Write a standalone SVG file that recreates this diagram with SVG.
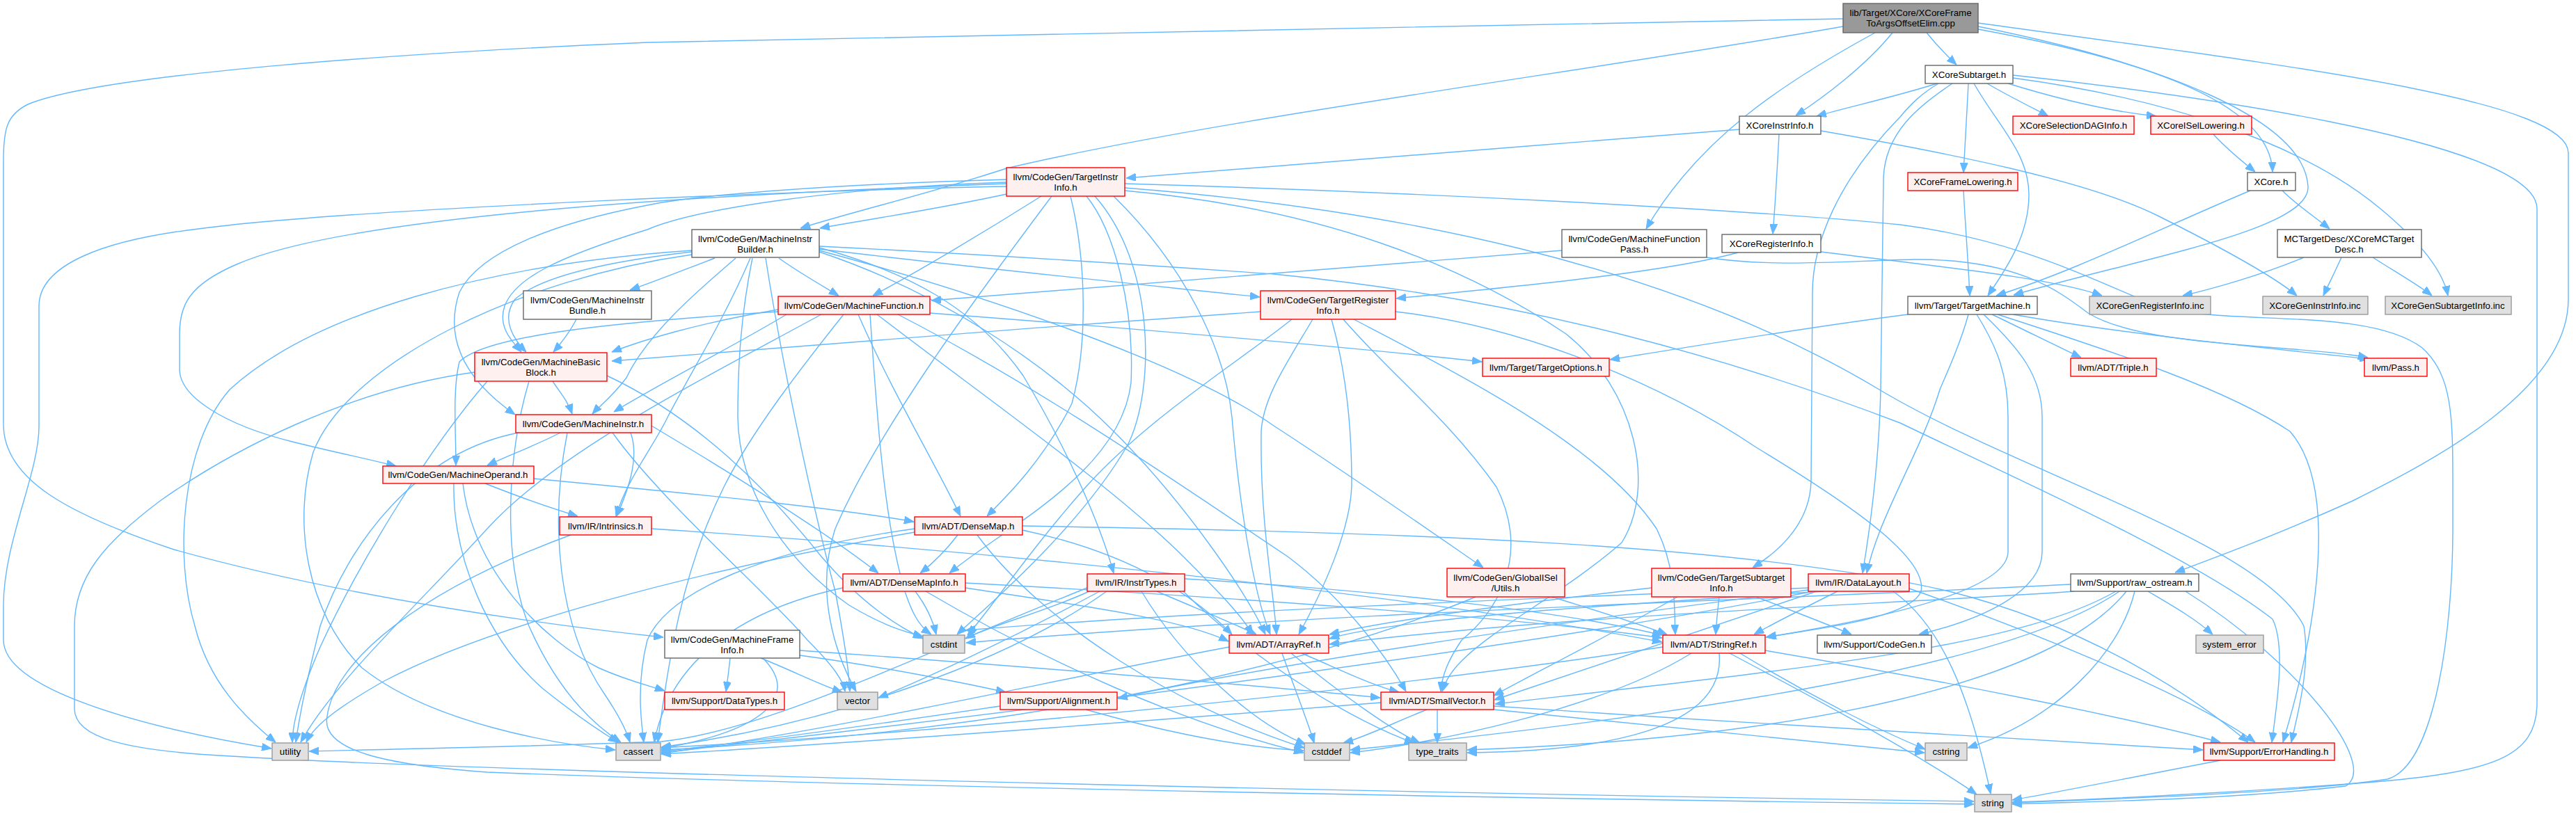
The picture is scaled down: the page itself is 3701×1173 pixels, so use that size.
<svg xmlns="http://www.w3.org/2000/svg" width="3701" height="1173" viewBox="0 0 3701 1173">
<style>
.e{fill:none;stroke:#63B8FF;stroke-width:1.4;marker-end:url(#ah)}
.n rect{stroke-width:1.4}
.r rect{fill:#FFF0F0;stroke:#FF0000}
.w rect{fill:#FFFFFF;stroke:#666666}
.g rect{fill:#E0E0E0;stroke:#999999}
.m rect{fill:#999999;stroke:#666666}
text{font-family:"Liberation Sans",Arial,sans-serif;font-size:13.3px;fill:#000;text-anchor:middle}
</style>
<defs>
<marker id="ah" markerUnits="userSpaceOnUse" markerWidth="14" markerHeight="11" viewBox="0 0 14 11" refX="14" refY="5.5" orient="auto"><path d="M0,0 L14,5.5 L0,11 z" fill="#63B8FF" stroke="#63B8FF"/></marker>
</defs>
<rect width="3701" height="1173" fill="#FFFFFF"/>
<g id="edges">
<path class="e" d="M2768,47 C2780,62 2795,78 2811,93"/>
<path class="e" d="M2719,47 C2680,95 2620,140 2580,166"/>
<path class="e" d="M2694,47 C2560,120 2440,200 2365,329"/>
<path class="e" d="M2648,38 C2300,100 1750,170 1446,242 C1330,280 1240,300 1150,328"/>
<path class="e" d="M2842,42 C3050,80 3262,140 3265,247"/>
<path class="e" d="M2842,38 C3100,90 3310,170 3316,268 C3320,330 3080,370 2893,424"/>
<path class="e" d="M2842,33 C3250,90 3690,140 3690,220 L3690,430 C3690,560 3500,660 3380,720 C3280,765 3200,795 3125,823"/>
<path class="e" d="M2648,27 C2000,40 1100,55 930,61 C600,75 150,105 40,150 C10,165 5,185 5,230 L5,610 C5,690 100,740 250,790 C500,860 800,900 953,916"/>
<path class="e" d="M2855,120 C2880,135 2920,155 2943,167"/>
<path class="e" d="M2885,120 C2950,140 3030,160 3098,167"/>
<path class="e" d="M2828,120 C2826,160 2823,210 2821,248"/>
<path class="e" d="M2836,120 C2870,180 2915,220 2915,280 C2915,340 2880,390 2856,425"/>
<path class="e" d="M2783,120 C2720,140 2650,155 2610,167"/>
<path class="e" d="M2892,112 C3100,140 3300,200 3420,300 C3480,350 3510,390 3517,425"/>
<path class="e" d="M2785,120 C2760,135 2745,150 2730,168 C2640,260 2604,350 2604,421 L2602,693 C2600,750 2560,790 2518,816"/>
<path class="e" d="M2805,120 C2760,150 2706,190 2706,260 L2702,560 C2700,650 2690,740 2676,824"/>
<path class="e" d="M2892,108 C3100,130 3645,200 3645,300 L3645,1010 C3645,1090 3580,1110 3400,1125 C3200,1140 3000,1150 2891,1153"/>
<path class="e" d="M2499,186 C2200,210 1800,240 1618,256"/>
<path class="e" d="M2556,193 C2553,250 2550,300 2547,336"/>
<path class="e" d="M2616,188 C2800,220 3000,260 3100,310 C3200,360 3270,400 3300,425"/>
<path class="e" d="M2497,363 C2400,390 2200,410 2006,429"/>
<path class="e" d="M2616,362 C2800,385 2950,400 3020,425"/>
<path class="e" d="M2244,360 C1900,385 1600,410 1338,432"/>
<path class="e" d="M2452,370 C2550,385 2650,375 2750,373 C2900,372 2960,420 3000,450 C3080,500 3300,495 3402,514"/>
<path class="e" d="M3180,193 C3200,215 3225,235 3240,247"/>
<path class="e" d="M3233,274 C3100,330 2980,390 2868,425"/>
<path class="e" d="M3279,274 C3300,295 3330,315 3347,329"/>
<path class="e" d="M2821,274 C2824,330 2828,380 2830,425"/>
<path class="e" d="M3310,370 C3250,395 3180,415 3136,425"/>
<path class="e" d="M3364,370 C3355,390 3345,410 3338,425"/>
<path class="e" d="M3409,370 C3440,390 3475,410 3494,425"/>
<path class="e" d="M2741,452 C2600,470 2450,495 2313,517"/>
<path class="e" d="M2862,452 C2910,475 2960,500 2990,514"/>
<path class="e" d="M2892,452 C3050,480 3250,500 3404,516"/>
<path class="e" d="M2828,452 C2815,500 2795,540 2787,560 C2760,650 2700,740 2682,824"/>
<path class="e" d="M2840,452 C2870,500 2885,540 2885,600 L2885,793 C2885,850 2700,890 2537,916"/>
<path class="e" d="M2850,452 C2900,500 2934,540 2934,600 L2934,793 C2934,850 2850,890 2757,912"/>
<path class="e" d="M2870,452 C3050,510 3200,560 3290,620 C3360,700 3330,900 3280,1067"/>
<path class="e" d="M1446,279 C1350,300 1250,315 1178,328"/>
<path class="e" d="M1496,282 C1420,330 1320,390 1254,425"/>
<path class="e" d="M1446,262 C1200,270 1000,300 930,330 C800,370 740,400 725,440 C715,470 735,490 749,506"/>
<path class="e" d="M1446,258 C1200,265 1000,280 930,295 C800,320 690,360 660,420 C640,480 660,540 740,596"/>
<path class="e" d="M1446,264 C1000,280 500,310 340,380 C270,410 258,440 258,480 L258,533 C260,570 320,610 420,635 C480,650 530,660 569,670"/>
<path class="e" d="M1446,268 C1200,272 500,300 285,329 C150,345 56,380 56,440 L56,613 C56,680 5,780 5,870 L5,920 C5,990 200,1045 390,1076"/>
<path class="e" d="M1511,282 C1400,430 1260,620 1200,760 C1170,850 1200,940 1230,994"/>
<path class="e" d="M1538,282 C1562,380 1562,500 1540,580 C1500,660 1450,710 1418,742"/>
<path class="e" d="M1561,282 C1600,330 1630,440 1625,550 C1610,680 1440,760 1364,824"/>
<path class="e" d="M1573,282 C1660,380 1660,560 1620,640 C1550,760 1420,870 1375,912"/>
<path class="e" d="M1600,282 C1700,380 1760,500 1770,600 C1780,720 1800,850 1825,912"/>
<path class="e" d="M1616,264 C2000,275 2500,300 2730,323 C2900,345 3000,400 3100,440 C3200,470 3400,440 3480,500 C3524,540 3524,600 3524,700 L3524,760 C3524,900 3500,1100 3430,1120 C3300,1140 3000,1150 2891,1154"/>
<path class="e" d="M1616,270 C2000,300 2400,380 2700,560 C2900,680 3250,780 3310,900 C3320,960 3300,1030 3292,1067"/>
<path class="e" d="M1616,274 C1900,300 2100,380 2250,480 C2350,560 2380,700 2330,780 C2250,850 2150,900 2100,950 C2080,970 2075,985 2072,994"/>
<path class="e" d="M1027,371 C990,385 940,405 905,417"/>
<path class="e" d="M1119,371 C1145,390 1180,410 1205,425"/>
<path class="e" d="M1177,358 C1400,385 1650,410 1810,427"/>
<path class="e" d="M994,362 C880,375 780,395 740,430 C718,460 740,490 756,506"/>
<path class="e" d="M1057,371 C1000,420 930,480 900,543 C880,570 860,585 851,595"/>
<path class="e" d="M1078,371 C1040,460 990,540 959,600 C940,640 900,690 885,742"/>
<path class="e" d="M1081,371 C1065,450 1060,520 1060,600 C1062,700 1120,800 1220,870 C1270,900 1300,908 1326,915"/>
<path class="e" d="M1177,356 C1300,390 1400,440 1470,540 C1530,640 1580,750 1600,824"/>
<path class="e" d="M1177,360 C1400,420 1700,520 1830,612 C1950,690 2050,760 2131,816"/>
<path class="e" d="M1177,354 C1500,370 1700,385 1830,394 C2200,430 2500,520 2730,608 C2900,690 3150,800 3265,890 C3285,930 3270,1020 3264,1067"/>
<path class="e" d="M994,360 C700,380 450,450 330,560 C260,640 250,800 280,900 C300,980 350,1030 396,1067"/>
<path class="e" d="M994,366 C750,400 500,520 450,650 C420,750 440,880 520,960 C620,1040 800,1070 884,1078"/>
<path class="e" d="M1100,371 C1120,500 1160,700 1200,850 C1215,930 1220,970 1221,994"/>
<path class="e" d="M1177,362 C1350,420 1500,520 1600,620 C1700,720 1790,850 1818,912"/>
<path class="e" d="M1118,445 C1000,465 920,490 879,506"/>
<path class="e" d="M1130,452 C1050,500 950,550 882,592"/>
<path class="e" d="M1118,448 C900,462 700,480 660,520 C650,560 655,620 655,669"/>
<path class="e" d="M1336,450 C1600,470 1900,495 2129,520"/>
<path class="e" d="M1233,452 C1280,560 1340,660 1380,742"/>
<path class="e" d="M1212,452 C1150,530 1080,620 1040,700 C980,820 960,950 945,1067"/>
<path class="e" d="M1180,452 C1000,550 800,650 700,760 C600,870 480,980 432,1067"/>
<path class="e" d="M1250,452 C1260,600 1270,750 1300,850 C1310,880 1320,900 1338,912"/>
<path class="e" d="M1260,452 C1400,560 1600,700 1700,800 C1750,850 1780,880 1800,912"/>
<path class="e" d="M1290,452 C1500,560 1700,700 1850,800 C1930,860 1990,940 2020,994"/>
<path class="e" d="M1811,448 C1500,470 1100,500 879,519"/>
<path class="e" d="M1886,459 C1850,520 1815,570 1812,620 C1810,750 1830,850 1834,912"/>
<path class="e" d="M1913,459 C1930,520 1942,600 1942,693 C1942,760 1900,850 1866,912"/>
<path class="e" d="M1930,459 C2000,540 2079,600 2150,700 C2200,800 2150,880 2100,920 C2080,950 2072,970 2070,994"/>
<path class="e" d="M1945,459 C2100,540 2300,640 2380,760 C2410,820 2405,880 2407,912"/>
<path class="e" d="M2005,448 C2200,470 2400,560 2523,643 C2650,720 2770,800 2760,850 C2745,890 2600,905 2538,916"/>
<path class="e" d="M1856,459 C1780,520 1650,600 1560,700 C1480,790 1420,880 1390,913"/>
<path class="e" d="M828,459 C820,475 805,495 795,506"/>
<path class="e" d="M794,548 C805,565 815,575 822,595"/>
<path class="e" d="M760,548 C730,650 720,800 760,900 C800,990 850,1040 892,1067"/>
<path class="e" d="M700,548 C620,640 520,800 460,930 C430,1000 420,1040 420,1067"/>
<path class="e" d="M682,535 C500,560 333,647 230,720 C150,780 107,830 107,900 L107,1019 C107,1060 178,1079 332,1087 C700,1110 2000,1140 2836,1152"/>
<path class="e" d="M872,540 C1000,600 1100,700 1180,800 C1240,870 1290,900 1326,918"/>
<path class="e" d="M805,622 C770,640 730,655 700,669"/>
<path class="e" d="M906,622 C920,660 900,710 886,742"/>
<path class="e" d="M936,612 C1050,680 1180,760 1262,824"/>
<path class="e" d="M815,622 C790,750 800,900 870,1000 C890,1030 900,1050 905,1067"/>
<path class="e" d="M745,622 C600,650 500,780 460,900 C440,980 430,1030 425,1067"/>
<path class="e" d="M880,622 C950,720 1100,850 1160,920 C1200,960 1212,980 1214,994"/>
<path class="e" d="M697,695 C740,712 790,730 830,742"/>
<path class="e" d="M767,688 C1000,710 1200,730 1313,750"/>
<path class="e" d="M652,695 C650,800 700,920 780,990 C830,1030 860,1050 888,1067"/>
<path class="e" d="M665,695 C680,820 780,920 860,960 C900,978 930,985 955,993"/>
<path class="e" d="M820,769 C600,850 480,950 470,1030 C460,1080 560,1100 700,1110 C1200,1130 2300,1150 2836,1156"/>
<path class="e" d="M936,760 C1400,790 2000,850 2388,923"/>
<path class="e" d="M1376,769 C1360,790 1340,810 1322,824"/>
<path class="e" d="M1469,762 C1600,790 1700,840 1770,912"/>
<path class="e" d="M1314,760 C1100,790 960,850 930,920 C915,980 920,1030 925,1067"/>
<path class="e" d="M1314,765 C1000,820 700,900 550,980 C480,1020 450,1045 440,1067"/>
<path class="e" d="M1404,769 C1500,900 1700,1020 1874,1075"/>
<path class="e" d="M1469,756 C2000,765 2500,780 2800,850 C3000,900 3150,1000 3230,1067"/>
<path class="e" d="M1315,850 C1330,870 1340,890 1345,912"/>
<path class="e" d="M1211,845 C1050,880 960,960 940,1067"/>
<path class="e" d="M1387,845 C1550,870 1700,890 1765,922"/>
<path class="e" d="M1387,838 C1800,860 2200,890 2388,917"/>
<path class="e" d="M1330,850 C1500,950 1700,1040 1873,1082"/>
<path class="e" d="M1565,850 C1500,880 1420,900 1387,918"/>
<path class="e" d="M1580,850 C1450,920 1320,980 1262,1003"/>
<path class="e" d="M1590,850 C1450,950 1200,1040 950,1074"/>
<path class="e" d="M1662,850 C1720,875 1770,895 1805,912"/>
<path class="e" d="M1702,832 C2000,850 2250,880 2388,913"/>
<path class="e" d="M1640,850 C1700,950 1800,1040 1876,1070"/>
<path class="e" d="M1700,850 C1800,950 1950,1040 2032,1068"/>
<path class="e" d="M1562,845 C1300,950 1100,1050 950,1066 C800,1072 600,1076 444,1080"/>
<path class="e" d="M1049,946 C1047,965 1045,980 1043,994"/>
<path class="e" d="M1093,946 C1140,965 1180,985 1210,995"/>
<path class="e" d="M1149,942 C1280,960 1400,985 1445,995"/>
<path class="e" d="M1149,935 C1500,960 1800,985 1983,1003"/>
<path class="e" d="M1096,946 C1150,1000 1100,1050 950,1076"/>
<path class="e" d="M2120,858 C1900,950 1500,1050 950,1078"/>
<path class="e" d="M2230,858 C2300,880 2350,895 2395,912"/>
<path class="e" d="M2470,858 C2468,875 2466,895 2465,912"/>
<path class="e" d="M2523,858 C2580,880 2620,895 2660,912"/>
<path class="e" d="M2373,845 C2200,865 2000,890 1910,912"/>
<path class="e" d="M2410,858 C2300,920 2200,970 2146,1000"/>
<path class="e" d="M2640,850 C2590,875 2550,895 2520,912"/>
<path class="e" d="M2620,850 C2300,870 2000,890 1910,918"/>
<path class="e" d="M2610,850 C2400,920 2250,970 2147,1006"/>
<path class="e" d="M2600,845 C2200,860 1700,880 1387,906"/>
<path class="e" d="M2605,850 C2200,930 1500,1020 950,1082"/>
<path class="e" d="M2720,850 C2790,900 2830,1000 2860,1141"/>
<path class="e" d="M2743,846 C2900,900 3150,1000 3240,1067"/>
<path class="e" d="M2598,848 C2200,900 1800,960 1606,1004"/>
<path class="e" d="M3086,850 C3120,870 3155,890 3179,912"/>
<path class="e" d="M3067,850 C3045,940 2955,1034 2827,1075"/>
<path class="e" d="M3140,850 C3300,950 3420,1100 3370,1130 C3200,1150 3000,1152 2891,1156"/>
<path class="e" d="M2975,840 C2600,860 1900,880 1388,924"/>
<path class="e" d="M2980,850 C2700,870 2300,880 1910,926"/>
<path class="e" d="M3040,850 C2900,930 2600,960 2148,1012"/>
<path class="e" d="M3045,850 C2900,950 2500,1020 1940,1078"/>
<path class="e" d="M3055,850 C2950,980 2600,1060 2108,1078"/>
<path class="e" d="M1870,939 C1920,960 1970,985 2010,995"/>
<path class="e" d="M1842,939 C1860,990 1880,1040 1888,1068"/>
<path class="e" d="M1855,939 C1930,1000 2000,1050 2040,1068"/>
<path class="e" d="M1766,930 C1500,980 1200,1050 950,1083"/>
<path class="e" d="M2430,939 C2300,1020 2050,1070 1940,1082"/>
<path class="e" d="M2470,939 C2480,1050 2300,1080 2108,1082"/>
<path class="e" d="M2500,939 C2600,1000 2700,1050 2766,1077"/>
<path class="e" d="M2485,939 C2600,1000 2750,1080 2840,1142"/>
<path class="e" d="M2389,930 C2000,990 1400,1050 950,1075"/>
<path class="e" d="M2536,935 C2800,980 3050,1030 3190,1067"/>
<path class="e" d="M2065,1020 C2065,1035 2065,1050 2065,1068"/>
<path class="e" d="M2050,1020 C2000,1040 1960,1060 1930,1068"/>
<path class="e" d="M1984,1010 C1600,1040 1200,1070 950,1084"/>
<path class="e" d="M2146,1015 C2500,1040 2900,1060 3165,1078"/>
<path class="e" d="M2146,1020 C2400,1045 2600,1065 2765,1082"/>
<path class="e" d="M1437,1015 C1200,1050 1050,1070 950,1080"/>
<path class="e" d="M1560,1020 C1700,1060 1800,1075 1873,1079"/>
<path class="e" d="M3190,1093 C3050,1120 2950,1140 2891,1150"/>
</g>
<g id="n_main" class="n m"><rect x="2648" y="5" width="194" height="42"/><text x="2745" y="23">lib/Target/XCore/XCoreFrame</text><text x="2745" y="38">ToArgsOffsetElim.cpp</text></g>
<g id="n_xs" class="n w"><rect x="2766" y="94" width="126" height="26"/><text x="2829" y="112">XCoreSubtarget.h</text></g>
<g id="n_xsel" class="n r"><rect x="2892" y="167" width="174" height="26"/><text x="2979" y="185">XCoreSelectionDAGInfo.h</text></g>
<g id="n_xisel" class="n r"><rect x="3090" y="167" width="145" height="26"/><text x="3162" y="185">XCoreISelLowering.h</text></g>
<g id="n_xi" class="n w"><rect x="2499" y="167" width="117" height="26"/><text x="2557" y="185">XCoreInstrInfo.h</text></g>
<g id="n_xfl" class="n r"><rect x="2741" y="248" width="158" height="26"/><text x="2820" y="266">XCoreFrameLowering.h</text></g>
<g id="n_xc" class="n w"><rect x="3229" y="248" width="69" height="26"/><text x="3263" y="266">XCore.h</text></g>
<g id="n_mct" class="n w"><rect x="3272" y="330" width="207" height="40"/><text x="3375" y="348">MCTargetDesc/XCoreMCTarget</text><text x="3375" y="363">Desc.h</text></g>
<g id="n_mfp" class="n w"><rect x="2244" y="330" width="208" height="40"/><text x="2348" y="348">llvm/CodeGen/MachineFunction</text><text x="2348" y="363">Pass.h</text></g>
<g id="n_xr" class="n w"><rect x="2474" y="337" width="142" height="26"/><text x="2545" y="355">XCoreRegisterInfo.h</text></g>
<g id="n_tii" class="n r"><rect x="1446" y="241" width="170" height="41"/><text x="1531" y="259">llvm/CodeGen/TargetInstr</text><text x="1531" y="274">Info.h</text></g>
<g id="n_mib" class="n w"><rect x="994" y="330" width="183" height="40"/><text x="1085" y="348">llvm/CodeGen/MachineInstr</text><text x="1085" y="363">Builder.h</text></g>
<g id="n_mf" class="n r"><rect x="1118" y="426" width="218" height="26"/><text x="1227" y="444">llvm/CodeGen/MachineFunction.h</text></g>
<g id="n_mibun" class="n w"><rect x="752" y="418" width="184" height="41"/><text x="844" y="436">llvm/CodeGen/MachineInstr</text><text x="844" y="451">Bundle.h</text></g>
<g id="n_tri" class="n r"><rect x="1811" y="418" width="194" height="41"/><text x="1908" y="436">llvm/CodeGen/TargetRegister</text><text x="1908" y="451">Info.h</text></g>
<g id="n_tm" class="n w"><rect x="2741" y="426" width="186" height="26"/><text x="2834" y="444">llvm/Target/TargetMachine.h</text></g>
<g id="n_gri" class="n g"><rect x="3002" y="426" width="174" height="26"/><text x="3089" y="444">XCoreGenRegisterInfo.inc</text></g>
<g id="n_gii" class="n g"><rect x="3251" y="426" width="151" height="26"/><text x="3326" y="444">XCoreGenInstrInfo.inc</text></g>
<g id="n_gsi" class="n g"><rect x="3427" y="426" width="181" height="26"/><text x="3517" y="444">XCoreGenSubtargetInfo.inc</text></g>
<g id="n_mbb" class="n r"><rect x="682" y="507" width="190" height="41"/><text x="777" y="525">llvm/CodeGen/MachineBasic</text><text x="777" y="540">Block.h</text></g>
<g id="n_to" class="n r"><rect x="2130" y="515" width="182" height="26"/><text x="2221" y="533">llvm/Target/TargetOptions.h</text></g>
<g id="n_tr" class="n r"><rect x="2975" y="515" width="123" height="26"/><text x="3036" y="533">llvm/ADT/Triple.h</text></g>
<g id="n_ps" class="n r"><rect x="3397" y="515" width="90" height="26"/><text x="3442" y="533">llvm/Pass.h</text></g>
<g id="n_mi" class="n r"><rect x="741" y="596" width="195" height="26"/><text x="838" y="614">llvm/CodeGen/MachineInstr.h</text></g>
<g id="n_mo" class="n r"><rect x="550" y="670" width="217" height="25"/><text x="658" y="687">llvm/CodeGen/MachineOperand.h</text></g>
<g id="n_in" class="n r"><rect x="804" y="743" width="132" height="26"/><text x="870" y="761">llvm/IR/Intrinsics.h</text></g>
<g id="n_dm" class="n r"><rect x="1314" y="743" width="155" height="26"/><text x="1391" y="761">llvm/ADT/DenseMap.h</text></g>
<g id="n_gis" class="n r"><rect x="2079" y="817" width="169" height="41"/><text x="2163" y="835">llvm/CodeGen/GlobalISel</text><text x="2163" y="850">/Utils.h</text></g>
<g id="n_tsi" class="n r"><rect x="2373" y="817" width="200" height="41"/><text x="2473" y="835">llvm/CodeGen/TargetSubtarget</text><text x="2473" y="850">Info.h</text></g>
<g id="n_dmi" class="n r"><rect x="1211" y="825" width="176" height="25"/><text x="1299" y="842">llvm/ADT/DenseMapInfo.h</text></g>
<g id="n_it" class="n r"><rect x="1562" y="825" width="140" height="25"/><text x="1632" y="842">llvm/IR/InstrTypes.h</text></g>
<g id="n_dl" class="n r"><rect x="2598" y="825" width="145" height="25"/><text x="2670" y="842">llvm/IR/DataLayout.h</text></g>
<g id="n_ro" class="n w"><rect x="2975" y="825" width="184" height="25"/><text x="3067" y="842">llvm/Support/raw_ostream.h</text></g>
<g id="n_mfi" class="n w"><rect x="955" y="906" width="194" height="40"/><text x="1052" y="924">llvm/CodeGen/MachineFrame</text><text x="1052" y="939">Info.h</text></g>
<g id="n_ci" class="n g"><rect x="1326" y="913" width="60" height="26"/><text x="1356" y="931">cstdint</text></g>
<g id="n_ar" class="n r"><rect x="1766" y="913" width="143" height="26"/><text x="1837" y="931">llvm/ADT/ArrayRef.h</text></g>
<g id="n_sr" class="n r"><rect x="2389" y="913" width="147" height="26"/><text x="2462" y="931">llvm/ADT/StringRef.h</text></g>
<g id="n_cg" class="n w"><rect x="2611" y="913" width="164" height="26"/><text x="2693" y="931">llvm/Support/CodeGen.h</text></g>
<g id="n_se" class="n g"><rect x="3155" y="913" width="97" height="26"/><text x="3203" y="931">system_error</text></g>
<g id="n_dt" class="n r"><rect x="955" y="995" width="172" height="25"/><text x="1041" y="1012">llvm/Support/DataTypes.h</text></g>
<g id="n_ve" class="n g"><rect x="1203" y="995" width="58" height="25"/><text x="1232" y="1012">vector</text></g>
<g id="n_al" class="n r"><rect x="1437" y="995" width="168" height="25"/><text x="1521" y="1012">llvm/Support/Alignment.h</text></g>
<g id="n_sv" class="n r"><rect x="1984" y="995" width="162" height="25"/><text x="2065" y="1012">llvm/ADT/SmallVector.h</text></g>
<g id="n_ut" class="n g"><rect x="391" y="1068" width="52" height="25"/><text x="417" y="1085">utility</text></g>
<g id="n_ca" class="n g"><rect x="885" y="1068" width="64" height="25"/><text x="917" y="1085">cassert</text></g>
<g id="n_cd" class="n g"><rect x="1874" y="1068" width="65" height="25"/><text x="1906" y="1085">cstddef</text></g>
<g id="n_tt" class="n g"><rect x="2024" y="1068" width="83" height="25"/><text x="2065" y="1085">type_traits</text></g>
<g id="n_cs" class="n g"><rect x="2766" y="1068" width="60" height="25"/><text x="2796" y="1085">cstring</text></g>
<g id="n_eh" class="n r"><rect x="3166" y="1068" width="188" height="25"/><text x="3260" y="1085">llvm/Support/ErrorHandling.h</text></g>
<g id="n_st" class="n g"><rect x="2837" y="1142" width="53" height="25"/><text x="2863" y="1159">string</text></g>
</svg>
